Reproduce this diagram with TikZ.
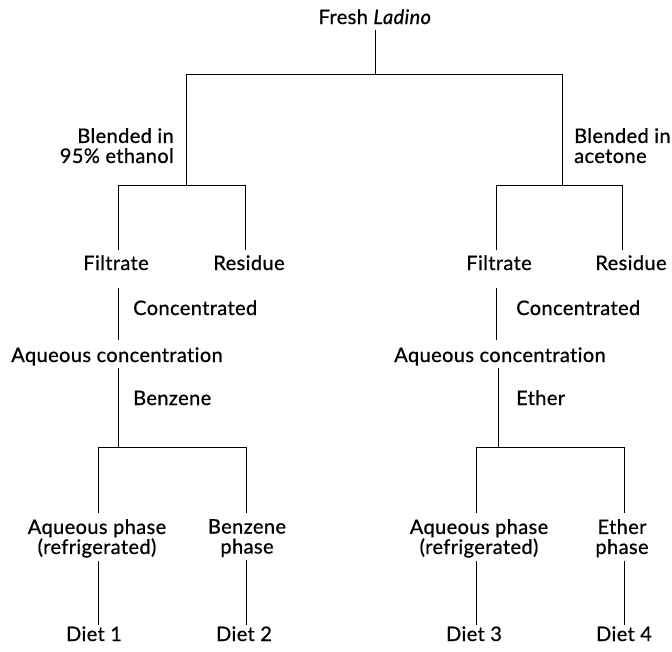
\documentclass[tikz,border=0pt]{standalone}
\usepackage{fontspec}
\setmainfont{Lato}[FakeBold=0.7, LetterSpace=2, Ligatures=NoCommon]
\usetikzlibrary{calc}
\begin{document}
\begin{tikzpicture}[x=1pt,y=-1pt,
  lbl/.style={font=\fontsize{20}{20}\selectfont, inner sep=0pt, text height=14pt, text depth=4pt, anchor=base},
  mlbl/.style={font=\fontsize{20}{20}\selectfont, inner sep=0pt},
  ln/.style={line width=0.9pt, line cap=butt, line join=miter}]
\useasboundingbox[fill=white] (0,0) rectangle (672,651);

% ---------- text nodes ----------
\node[lbl] (fresh) at (375,24) {Fresh \textit{Ladino}};
\node[mlbl, anchor=north east, align=right] (blendL) at (174,128) {Blended in\\95\% ethanol};
\node[mlbl, anchor=north west, align=left]  (blendR) at (574,128) {Blended in\\acetone};

\node[lbl] (filL) at (116,270) {Filtrate};
\node[lbl] (resL) at (249,270) {Residue};
\node[lbl] (filR) at (499,270) {Filtrate};
\node[lbl] (resR) at (631,270) {Residue};

\node[lbl, anchor=base west] (conL) at (133,315) {Concentrated};
\node[lbl, anchor=base west] (conR) at (516,315) {Concentrated};

\node[lbl] (aqL) at (117,362) {Aqueous concentration};
\node[lbl] (aqR) at (500,362) {Aqueous concentration};

\node[lbl, anchor=base west] (benz) at (133,405) {Benzene};
\node[lbl, anchor=base west] (eth)  at (516,405) {Ether};

\node[mlbl, anchor=north, align=center] (aqpL)  at (97,519)  {Aqueous phase\\(refrigerated)};
\node[mlbl, anchor=north, align=center] (benzP) at (247,519) {Benzene\\phase};
\node[mlbl, anchor=north, align=center] (aqpR)  at (479,519) {Aqueous phase\\(refrigerated)};
\node[mlbl, anchor=north, align=center] (ethP)  at (622,519) {Ether\\phase};

\node[lbl] (d1) at (94,641)  {Diet 1};
\node[lbl] (d2) at (244,641) {Diet 2};
\node[lbl] (d3) at (474,641) {Diet 3};
\node[lbl] (d4) at (624,641) {Diet 4};

% ---------- junction coordinates ----------
\coordinate (tm) at (375,74);
\coordinate (tl) at (186,74);
\coordinate (tr) at (562,74);
\coordinate (sl) at (186,185);
\coordinate (sr) at (562,185);
\coordinate (sL1) at (118,185);
\coordinate (sL2) at (245,185);
\coordinate (sR1) at (496,185);
\coordinate (sR2) at (622,185);
\coordinate (bl) at (118,447);
\coordinate (br) at (498,447);
\coordinate (bL1) at (98,447);
\coordinate (bL2) at (246,447);
\coordinate (bR1) at (476,447);
\coordinate (bR2) at (624,447);

% ---------- connectors ----------
\draw[ln] ($(fresh.south)+(0,2)$) -- (tm);
\draw[ln] (sl) -- (tl) -- (tr) -- (sr);
\draw[ln] (sL1) -- (sL2);
\draw[ln] (sR1) -- (sR2);
\draw[ln] (sL1) -- ($(sL1 |- filL.north)+(0,-6)$);
\draw[ln] (sL2) -- ($(sL2 |- resL.north)+(0,-6)$);
\draw[ln] (sR1) -- ($(sR1 |- filR.north)+(0,-6)$);
\draw[ln] (sR2) -- ($(sR2 |- resR.north)+(0,-6)$);

\draw[ln] ($(sL1 |- filL.south)+(0,14)$) -- ($(sL1 |- aqL.north)+(0,-8)$);
\draw[ln] ($(sR1 |- filR.south)+(0,14)$) -- ($(sR1 |- aqR.north)+(0,-8)$);

\draw[ln] ($(bl |- aqL.south)+(0,2)$) -- (bl);
\draw[ln] ($(br |- aqR.south)+(0,2)$) -- (br);
\draw[ln] (bL1) -- (bL2);
\draw[ln] (bR1) -- (bR2);

\draw[ln] (bL1) -- ($(bL1 |- aqpL.north)+(0,-6)$);
\draw[ln] (bL2) -- ($(bL2 |- benzP.north)+(0,-6)$);
\draw[ln] (bR1) -- ($(bR1 |- aqpR.north)+(0,-6)$);
\draw[ln] (bR2) -- ($(bR2 |- ethP.north)+(0,-6)$);

\draw[ln] ($(bL1 |- aqpL.south)+(0,3)$) -- ($(bL1 |- d1.north)+(0,-2)$);
\draw[ln] ($(bL2 |- benzP.south)+(0,3)$) -- ($(bL2 |- d2.north)+(0,-2)$);
\draw[ln] ($(bR1 |- aqpR.south)+(0,3)$) -- ($(bR1 |- d3.north)+(0,-2)$);
\draw[ln] ($(bR2 |- ethP.south)+(0,3)$) -- ($(bR2 |- d4.north)+(0,-2)$);
\end{tikzpicture}
\end{document}
